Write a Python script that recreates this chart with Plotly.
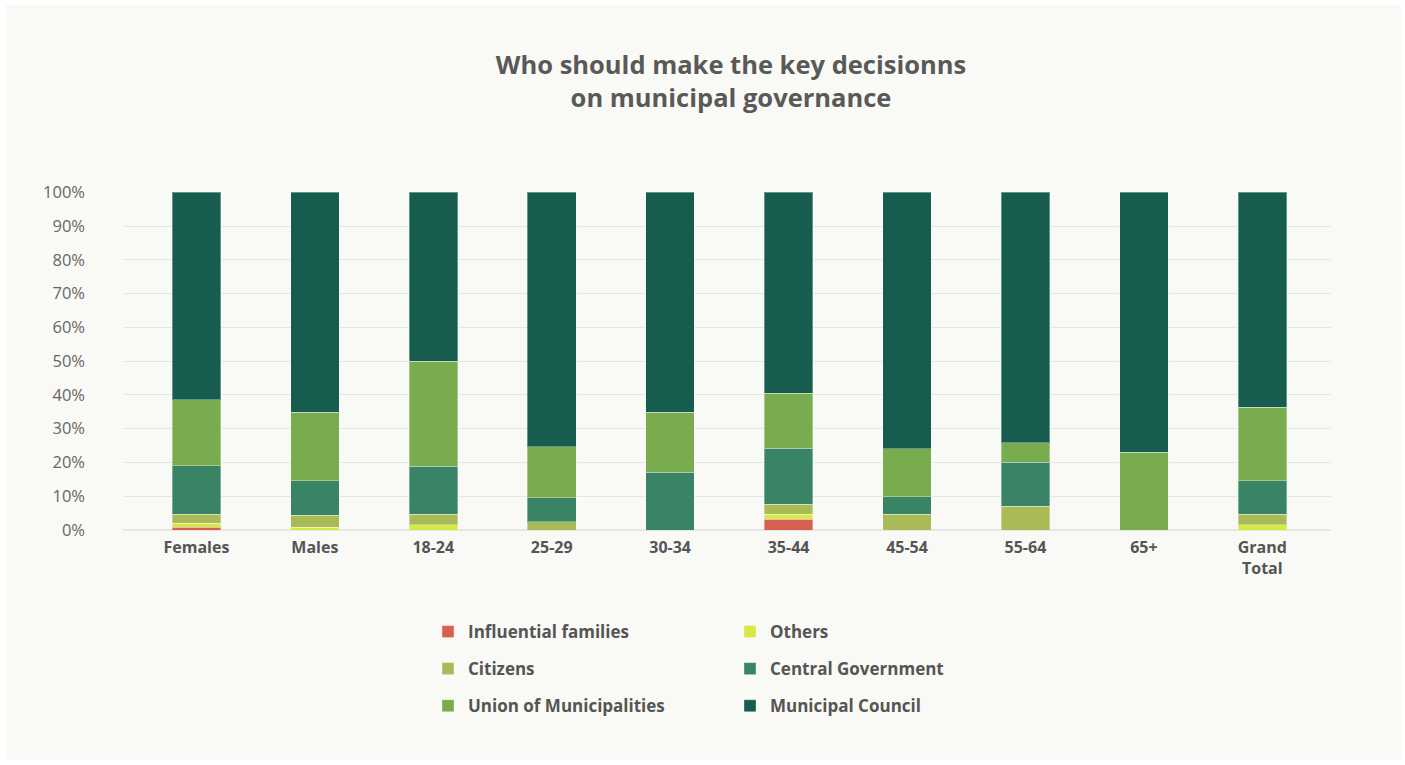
import plotly.graph_objects as go

# Respondent groups along the x axis
categories = ["Females", "Males", "18-24", "25-29", "30-34", "35-44",
              "45-54", "55-64", "65+", "Grand<br>Total"]

# Share of respondents (in %) naming each body, per group
influential_families = [0.8, 0.0, 0.0, 0.0, 0.0, 3.2, 0.0, 0.0, 0.0, 0.0]
others = [1.2, 0.8, 1.5, 0.0, 0.0, 1.5, 0.0, 0.0, 0.0, 1.5]
citizens = [2.6, 3.5, 3.1, 2.5, 0.0, 2.9, 4.7, 7.1, 0.0, 3.2]
central_government = [14.4, 10.3, 14.3, 7.0, 17.1, 16.6, 5.1, 12.9, 0.0, 9.9]
union_of_municipalities = [19.6, 20.3, 31.1, 15.1, 17.7, 16.3, 14.3, 5.8, 23.0, 21.8]
municipal_council = [61.4, 65.1, 50.0, 75.4, 65.2, 59.5, 75.9, 74.2, 77.0, 63.6]

series = [
    ("Influential families", influential_families, "#d6614e", "legend"),
    ("Others", others, "#d8e944", "legend2"),
    ("Citizens", citizens, "#a9bb57", "legend"),
    ("Central Government", central_government, "#3a8466", "legend2"),
    ("Union of Municipalities", union_of_municipalities, "#79ab4f", "legend"),
    ("Municipal Council", municipal_council, "#165c4f", "legend2"),
]

FONT = "Open Sans"
W, H = 1405, 765
L, R, T, B = 123, 74, 192, 235

fig = go.Figure()
for name, vals, color, lg in series:
    fig.add_trace(go.Bar(
        x=list(range(len(categories))),
        y=[v / 100 for v in vals],
        name=f"<b>{name}</b>",
        marker=dict(color=color, line=dict(color="rgba(255,255,255,0.35)", width=1)),
        width=0.41,
        legend=lg,
        legendgroup=name,
    ))

legend_font = dict(family=FONT, size=17, color="#555555")
plot_w = W - L - R


def px_x(p):
    return (p - L) / plot_w


def px_y(p):
    return (H - B - p) / (H - T - B)


fig.update_layout(
    width=W, height=H,
    barmode="stack",
    paper_bgcolor="#ffffff",
    plot_bgcolor="rgba(0,0,0,0)",
    margin=dict(l=L, r=R, t=T, b=B),
    font=dict(family=FONT, color="#555555"),
    title=dict(
        text="<b>Who should make the key decisionns<br>on municipal governance</b>",
        font=dict(family=FONT, size=25.5, color="#595959"),
        x=731 / W, xanchor="center",
        y=1 - 74 / H, yanchor="middle", yref="container",
    ),
    xaxis=dict(
        tickmode="array",
        tickvals=list(range(len(categories))),
        ticktext=[f"<b>{c}</b>" for c in categories],
        tickfont=dict(family=FONT, size=16, color="#555555"),
        range=[-0.62, 9.58],
        showgrid=False, zeroline=False, showline=False,
        ticks="",
        ticklabelstandoff=6,
    ),
    yaxis=dict(
        range=[0, 1.001],
        dtick=0.1,
        tickformat=".0%",
        tickfont=dict(family=FONT, size=16.5, color="#666666"),
        gridcolor="#e3e8e2", gridwidth=1,
        zeroline=True, zerolinecolor="#e3e8e2", zerolinewidth=1.5,
        showline=False, ticks="",
        ticklabelstandoff=37,
    ),
    legend=dict(
        orientation="v", x=px_x(428), y=px_y(614), xanchor="left", yanchor="top",
        font=legend_font, bgcolor="rgba(0,0,0,0)", traceorder="grouped",
        tracegroupgap=12, itemclick=False,
    ),
    legend2=dict(
        orientation="v", x=px_x(730), y=px_y(614), xanchor="left", yanchor="top",
        font=legend_font, bgcolor="rgba(0,0,0,0)", traceorder="grouped",
        tracegroupgap=12, itemclick=False,
    ),
    shapes=[dict(
        type="rect", xref="paper", yref="paper", layer="below",
        x0=px_x(6), x1=px_x(1401), y0=px_y(760), y1=px_y(5),
        fillcolor="#f9f9f5", line=dict(width=0),
    )],
)

fig.write_html("out.html")
